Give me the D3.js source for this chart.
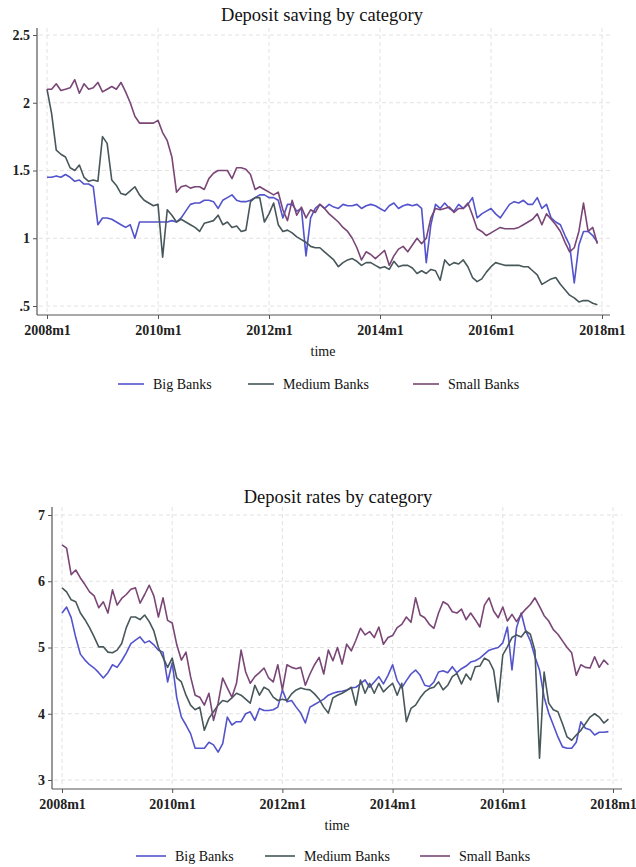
<!DOCTYPE html>
<html>
<head>
<meta charset="utf-8">
<script src="https://cdn.jsdelivr.net/npm/d3@7"></script>
<style>
  html, body { margin: 0; padding: 0; background: #fff; }
  svg { display: block; }
</style>
</head>
<body>
<svg id="chart" width="636" height="867" font-family="'Liberation Serif', 'Times New Roman', Times, serif"></svg>
<script>
// Monthly observations, 2008m1 .. 2017m12 (120 months)
const seriesNames = ["Big Banks", "Medium Banks", "Small Banks"];
const seriesColors = ["#5353cc", "#47575a", "#7a4676"];
const xTickLabels = ["2008m1", "2010m1", "2012m1", "2014m1", "2016m1", "2018m1"];

// Deposit saving
const savingBig = [
  1.45,1.45,1.46,1.45,1.47, 1.45,1.42,1.43,1.40,1.40,
  1.38,1.10,1.15,1.15,1.14, 1.12,1.10,1.08,1.10,1.00,
  1.12,1.12,1.12,1.12,1.12, 1.12,1.12,1.13,1.12,1.15,
  1.20,1.25,1.26,1.26,1.28, 1.28,1.27,1.22,1.28,1.30,
  1.32,1.28,1.27,1.27,1.28, 1.30,1.32,1.32,1.30,1.30,
  1.28,1.15,1.25,1.25,1.20, 1.22,0.87,1.15,1.22,1.25,
  1.22,1.25,1.23,1.22,1.25, 1.24,1.24,1.25,1.22,1.24,
  1.25,1.24,1.22,1.20,1.24, 1.26,1.22,1.24,1.25,1.24,
  1.25,1.22,0.82,1.10,1.25, 1.22,1.26,1.22,1.20,1.25,
  1.22,1.25,1.30,1.15,1.18, 1.20,1.22,1.18,1.15,1.20,
  1.25,1.27,1.26,1.28,1.25, 1.25,1.30,1.22,1.25,1.15,
  1.12,1.10,1.02,0.95,0.67, 0.95,1.05,1.05,1.02,0.97
];
const savingMedium = [
  2.10,1.92,1.65,1.62,1.60, 1.52,1.50,1.54,1.45,1.42,
  1.43,1.42,1.75,1.70,1.43, 1.39,1.33,1.32,1.35,1.38,
  1.32,1.28,1.26,1.24,1.25, 0.86,1.21,1.17,1.12,1.14,
  1.12,1.10,1.08,1.05,1.11, 1.12,1.13,1.17,1.10,1.12,
  1.08,1.09,1.05,1.06,1.27, 1.30,1.30,1.12,1.18,1.26,
  1.10,1.05,1.06,1.04,1.01, 0.99,0.97,0.94,0.93,0.93,
  0.90,0.87,0.84,0.79,0.82, 0.84,0.85,0.83,0.80,0.82,
  0.82,0.80,0.78,0.79,0.77, 0.83,0.79,0.80,0.80,0.78,
  0.74,0.76,0.74,0.77,0.76, 0.69,0.84,0.80,0.82,0.81,
  0.84,0.79,0.71,0.68,0.70, 0.75,0.79,0.82,0.81,0.80,
  0.80,0.80,0.80,0.79,0.79, 0.76,0.73,0.66,0.68,0.70,
  0.71,0.66,0.62,0.58,0.56, 0.53,0.54,0.54,0.52,0.51
];
const savingSmall = [
  2.10,2.10,2.14,2.09,2.10, 2.11,2.17,2.07,2.14,2.10,
  2.11,2.15,2.08,2.10,2.12, 2.10,2.15,2.08,2.00,1.90,
  1.85,1.85,1.85,1.85,1.87, 1.78,1.72,1.60,1.34,1.38,
  1.39,1.37,1.38,1.38,1.36, 1.44,1.48,1.50,1.50,1.50,
  1.44,1.52,1.52,1.51,1.47, 1.36,1.38,1.36,1.34,1.32,
  1.34,1.21,1.13,1.28,1.17, 1.23,1.15,1.21,1.19,1.25,
  1.22,1.18,1.15,1.12,1.08, 1.05,1.00,0.93,0.84,0.90,
  0.88,0.85,0.88,0.91,0.80, 0.87,0.92,0.94,0.90,0.95,
  1.00,0.96,1.00,1.15,1.22, 1.21,1.22,1.23,1.19,1.22,
  1.22,1.26,1.17,1.07,1.05, 1.02,1.04,1.06,1.08,1.07,
  1.07,1.07,1.08,1.10,1.12, 1.14,1.18,1.10,1.18,1.14,
  1.10,1.05,0.97,0.90,0.93, 1.05,1.26,1.05,1.08,0.96
];
const savingYTicks = [0.5, 1, 1.5, 2, 2.5];
const savingYLabels = [".5", "1", "1.5", "2", "2.5"];

// Deposit rates
const ratesBig = [
  5.52,5.61,5.45,5.15,4.90, 4.81,4.74,4.69,4.62,4.54,
  4.62,4.74,4.70,4.80,4.92, 5.06,5.11,5.16,5.07,5.10,
  5.04,4.96,4.93,4.48,4.77, 4.24,3.95,3.83,3.70,3.48,
  3.48,3.48,3.57,3.53,3.42, 3.55,3.95,3.83,3.88,3.88,
  4.00,4.03,3.90,4.08,4.05, 4.05,4.06,4.10,4.36,4.18,
  4.20,4.10,4.01,3.86,4.10, 4.14,4.18,4.22,4.28,4.31,
  4.33,4.34,4.36,4.39,4.40, 4.45,4.51,4.40,4.48,4.56,
  4.45,4.58,4.74,4.50,4.39, 4.50,4.60,4.66,4.58,4.43,
  4.41,4.48,4.63,4.65,4.62, 4.71,4.62,4.68,4.72,4.78,
  4.80,4.84,4.90,4.96,4.98, 5.00,5.07,5.31,4.66,5.30,
  5.52,5.25,5.10,4.86,4.66, 4.25,4.01,3.83,3.65,3.50,
  3.48,3.48,3.57,3.88,3.78, 3.76,3.68,3.72,3.72,3.73
];
const ratesMedium = [
  5.90,5.84,5.72,5.69,5.52, 5.42,5.30,5.16,5.01,5.01,
  4.93,4.92,4.96,5.06,5.30, 5.46,5.46,5.42,5.49,5.39,
  5.25,5.00,4.85,4.70,4.84, 4.54,4.48,4.28,4.13,4.06,
  4.10,3.75,3.93,4.03,4.13, 4.20,4.18,4.24,4.31,4.28,
  4.22,4.16,4.43,4.28,4.40, 4.36,4.25,4.20,4.22,4.20,
  4.30,4.36,4.39,4.37,4.36, 4.30,4.22,4.10,4.01,4.24,
  4.28,4.31,4.35,4.40,4.13, 4.51,4.31,4.46,4.31,4.46,
  4.33,4.40,4.46,4.28,4.46, 3.88,4.08,4.13,4.24,4.33,
  4.38,4.40,4.48,4.36,4.43, 4.56,4.61,4.45,4.60,4.51,
  4.71,4.72,4.84,4.80,4.66, 4.18,4.89,5.01,5.15,5.19,
  5.16,5.25,5.20,4.95,3.33, 4.63,4.16,4.06,4.03,3.85,
  3.65,3.60,3.68,3.75,3.85, 3.95,4.00,3.95,3.86,3.92
];
const ratesSmall = [
  6.55,6.50,6.10,6.17,6.05, 5.95,5.84,5.78,5.60,5.69,
  5.52,5.87,5.64,5.74,5.80, 5.88,5.90,5.67,5.80,5.94,
  5.78,5.46,5.75,5.41,5.37, 5.04,4.81,4.93,4.56,4.28,
  4.25,4.13,4.31,3.90,4.16, 4.54,4.39,4.25,4.46,4.96,
  4.63,4.46,4.56,4.62,4.69, 4.54,4.48,4.74,4.36,4.74,
  4.70,4.68,4.70,4.43,4.60, 4.74,4.85,4.60,4.96,4.80,
  5.00,4.75,5.05,4.95,5.11, 5.29,5.19,5.24,5.15,5.31,
  5.05,5.15,5.18,5.30,5.35, 5.46,5.38,5.75,5.49,5.45,
  5.35,5.29,5.52,5.69,5.65, 5.54,5.52,5.58,5.42,5.52,
  5.42,5.31,5.64,5.75,5.55, 5.45,5.61,5.40,5.50,5.39,
  5.50,5.58,5.65,5.75,5.62, 5.48,5.40,5.27,5.20,5.10,
  5.00,4.92,4.58,4.74,4.70, 4.69,4.86,4.70,4.81,4.74
];
const ratesYTicks = [3, 4, 5, 6, 7];
const ratesYLabels = ["3", "4", "5", "6", "7"];

const FONT = "'Liberation Serif', 'Times New Roman', Times, serif";
const svg = d3.select("#chart");
const gridColor = "#e2e2e2";

function drawPanel(cfg) {
  const g = svg.append("g");
  const tickMonths = xTickLabels.map((_, i) => i * 24);

  const x = d3.scaleLinear().domain([0, 120]).range([cfg.x0, cfg.x1]);
  const y = d3.scaleLinear().domain(cfg.yDomain).range([cfg.yBottom, cfg.yTop]);

  // Title
  g.append("text")
    .attr("x", cfg.titleX).attr("y", cfg.titleY)
    .attr("text-anchor", "middle")
    .attr("font-family", FONT)
    .attr("font-size", 18.5)
    .attr("fill", "#111")
    .text(cfg.title);

  // Dashed grid
  g.append("g").selectAll("line").data(cfg.yTicks).join("line")
    .attr("x1", cfg.axisLeft + 2).attr("x2", cfg.axisRight)
    .attr("y1", d => y(d)).attr("y2", d => y(d))
    .attr("stroke", gridColor).attr("stroke-width", 1)
    .attr("stroke-dasharray", "4,3");
  g.append("g").selectAll("line").data(tickMonths).join("line")
    .attr("x1", d => x(d)).attr("x2", d => x(d))
    .attr("y1", cfg.axisTop).attr("y2", cfg.axisBottom - 2)
    .attr("stroke", gridColor).attr("stroke-width", 1)
    .attr("stroke-dasharray", "4,3");

  // Axes
  const yAxis = d3.axisLeft(y)
    .tickValues(cfg.yTicks)
    .tickFormat((d, i) => cfg.yLabels[i])
    .tickSize(4).tickPadding(3);
  const gy = g.append("g").attr("transform", `translate(${cfg.axisLeft},0)`).call(yAxis);
  gy.select(".domain").remove();
  g.append("line")
    .attr("x1", cfg.axisLeft).attr("x2", cfg.axisLeft)
    .attr("y1", cfg.axisTop).attr("y2", cfg.axisBottom)
    .attr("stroke", "#555").attr("stroke-width", 1.2);

  const xAxis = d3.axisBottom(x)
    .tickValues(tickMonths)
    .tickFormat((d, i) => xTickLabels[i])
    .tickSize(4).tickPadding(6);
  const gx = g.append("g").attr("transform", `translate(0,${cfg.axisBottom})`).call(xAxis);
  gx.select(".domain").remove();
  g.append("line")
    .attr("x1", cfg.axisLeft).attr("x2", cfg.axisRight)
    .attr("y1", cfg.axisBottom).attr("y2", cfg.axisBottom)
    .attr("stroke", "#555").attr("stroke-width", 1.2);

  [gx, gy].forEach(a => {
    a.attr("font-family", FONT).attr("font-size", 14).attr("font-weight", "bold");
    a.selectAll(".tick line").attr("stroke", "#555");
    a.selectAll(".tick text").attr("fill", "#222");
  });

  // Axis title
  g.append("text")
    .attr("x", cfg.timeX).attr("y", cfg.timeY)
    .attr("text-anchor", "middle")
    .attr("font-family", FONT)
    .attr("font-size", 14)
    .attr("fill", "#111")
    .text("time");

  // Series lines
  const line = d3.line().x((d, i) => x(i)).y(d => y(d));
  cfg.series.forEach((s, k) => {
    g.append("path")
      .datum(s)
      .attr("fill", "none")
      .attr("stroke", seriesColors[k])
      .attr("stroke-width", 1.6)
      .attr("stroke-linejoin", "round")
      .attr("d", line);
  });

  // Legend
  const lg = g.append("g").attr("transform", `translate(0,${cfg.legendY})`);
  seriesNames.forEach((name, k) => {
    const lx = cfg.legendX[k];
    lg.append("line")
      .attr("x1", lx).attr("x2", lx + cfg.legendLine)
      .attr("y1", 0).attr("y2", 0)
      .attr("stroke", seriesColors[k]).attr("stroke-width", 1.6);
    lg.append("text")
      .attr("x", lx + cfg.legendLine + 9).attr("y", 4.5)
      .attr("font-family", FONT)
      .attr("font-size", 14)
      .attr("fill", "#111")
      .text(name);
  });
}

drawPanel({
  title: "Deposit saving by category", titleX: 322, titleY: 21,
  series: [savingBig, savingMedium, savingSmall],
  yDomain: [0.5, 2.5], yTicks: savingYTicks, yLabels: savingYLabels,
  x0: 47, x1: 602, yTop: 35, yBottom: 306,
  axisLeft: 37, axisRight: 610, axisTop: 28, axisBottom: 315,
  timeX: 323, timeY: 356,
  legendY: 384, legendX: [118, 248, 413], legendLine: 26
});

drawPanel({
  title: "Deposit rates by category", titleX: 338, titleY: 503,
  series: [ratesBig, ratesMedium, ratesSmall],
  yDomain: [3, 7], yTicks: ratesYTicks, yLabels: ratesYLabels,
  x0: 62, x1: 613, yTop: 515, yBottom: 780,
  axisLeft: 52, axisRight: 622, axisTop: 507, axisBottom: 789,
  timeX: 337, timeY: 830,
  legendY: 856, legendX: [136, 265, 420], legendLine: 30
});
</script>
</body>
</html>
